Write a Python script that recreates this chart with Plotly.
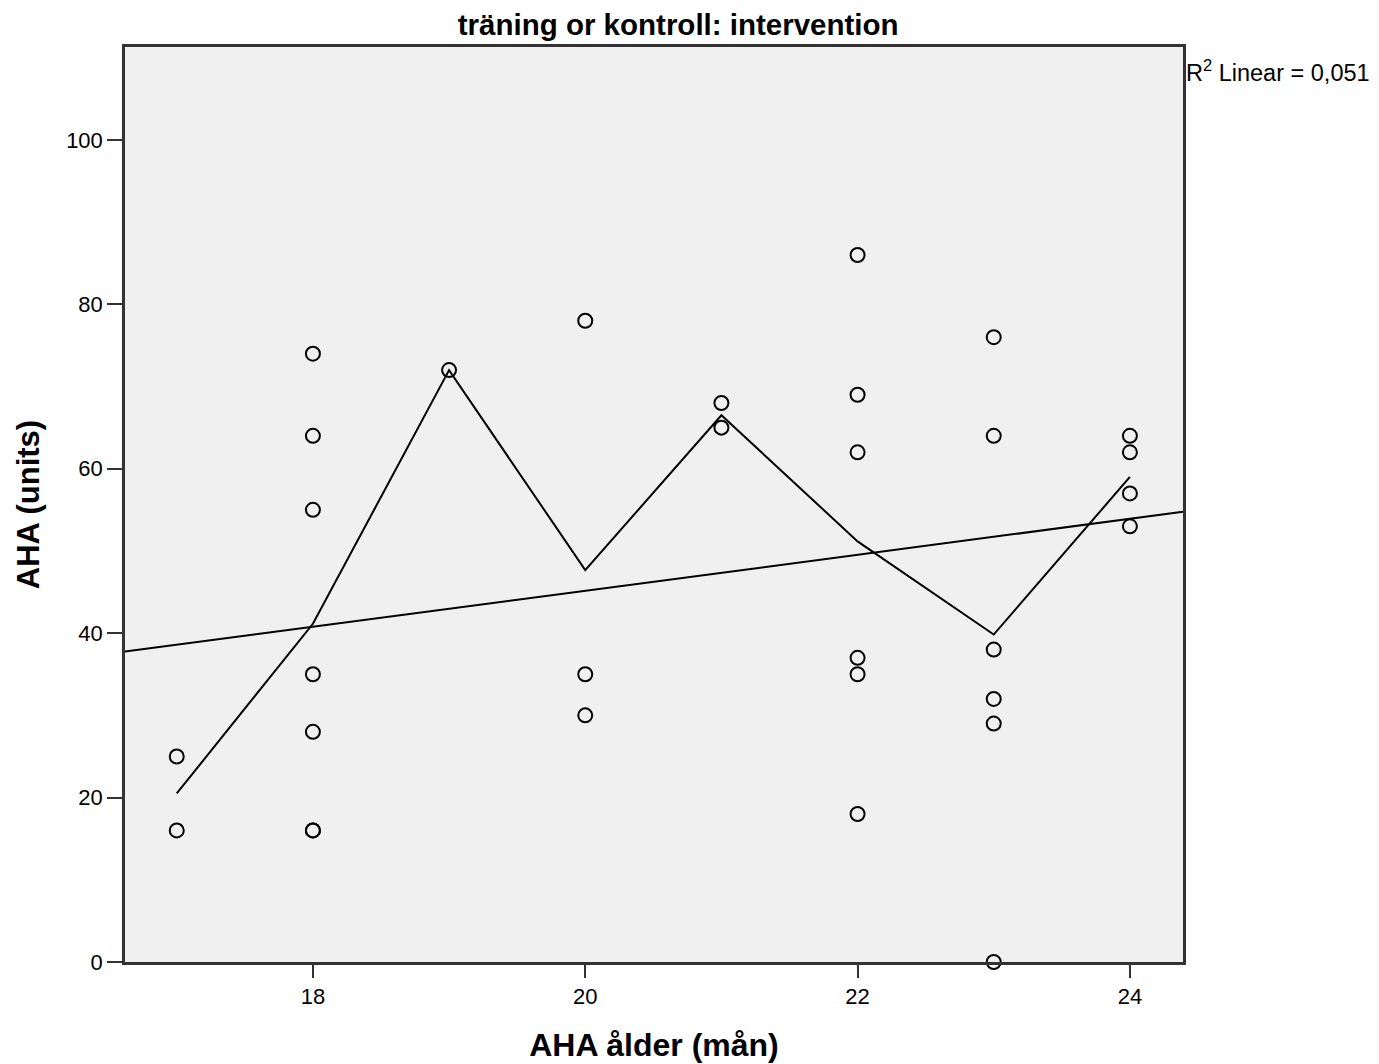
import numpy as np
import plotly.graph_objects as go

age = [17, 17,
       18, 18, 18, 18, 18, 18, 18,
       19,
       20, 20, 20,
       21, 21,
       22, 22, 22, 22, 22, 22,
       23, 23, 23, 23, 23, 23,
       24, 24, 24, 24]
aha = [25, 16,
       74, 64, 55, 35, 28, 16, 16,
       72,
       78, 35, 30,
       68, 65,
       86, 69, 62, 37, 35, 18,
       76, 64, 38, 32, 29, 0,
       64, 62, 57, 53]
x_ticks = [18, 20, 22, 24]
y_ticks = [0, 20, 40, 60, 80, 100]
x_range = [16.62, 24.39]
y_range = [0, 111.3]

xa = np.array(age, dtype=float)
ya = np.array(aha, dtype=float)
groups = sorted(set(age))
means = [ya[xa == g].mean() for g in groups]
slope, intercept = np.polyfit(xa, ya, 1)
fit_x = np.array(x_range)
fit_y = slope * fit_x + intercept

fig = go.Figure()
fig.add_trace(go.Scatter(x=groups, y=means, mode="lines",
                         line=dict(color="black", width=2), showlegend=False))
fig.add_trace(go.Scatter(x=fit_x, y=fit_y, mode="lines",
                         line=dict(color="black", width=2), showlegend=False))
fig.add_trace(go.Scatter(x=age, y=aha, mode="markers",
                         marker=dict(symbol="circle-open", size=14,
                                     color="black", line=dict(width=2)),
                         showlegend=False, cliponaxis=False))

fig.update_layout(
    width=1379, height=1064,
    paper_bgcolor="white", plot_bgcolor="#f0f0f0",
    margin=dict(l=117, r=204, t=39, b=110),
    font=dict(family="Liberation Sans, Arial, sans-serif", color="black"),
    title=dict(text="<b>träning or kontroll: intervention</b>", x=0.486, xanchor="center",
               y=0.984, yanchor="middle", font=dict(size=29.5)),
    xaxis=dict(range=x_range, tickvals=x_ticks, ticks="outside", ticklen=13,
               tickwidth=2, tickcolor="#333", showgrid=False, zeroline=False,
               showline=True, linecolor="#333", linewidth=2.5, mirror=True,
               tickfont=dict(size=22),
               title=dict(text="<b>AHA ålder (mån)</b>", font=dict(size=32), standoff=26)),
    yaxis=dict(range=y_range, tickvals=y_ticks, ticks="outside", ticklen=15,
               tickwidth=2, tickcolor="#333", showgrid=False, zeroline=False,
               showline=True, linecolor="#333", linewidth=2.5, mirror=True,
               tickfont=dict(size=22),
               title=dict(text="<b>AHA (units)</b>", font=dict(size=31), standoff=18)),
)
fig.add_annotation(text="R<sup>2</sup> Linear = 0,051", xref="paper", yref="paper",
                   x=1.0, y=0.974, xanchor="left", yanchor="middle", showarrow=False,
                   xshift=1, font=dict(size=23.5))
fig.write_html("out.html")
